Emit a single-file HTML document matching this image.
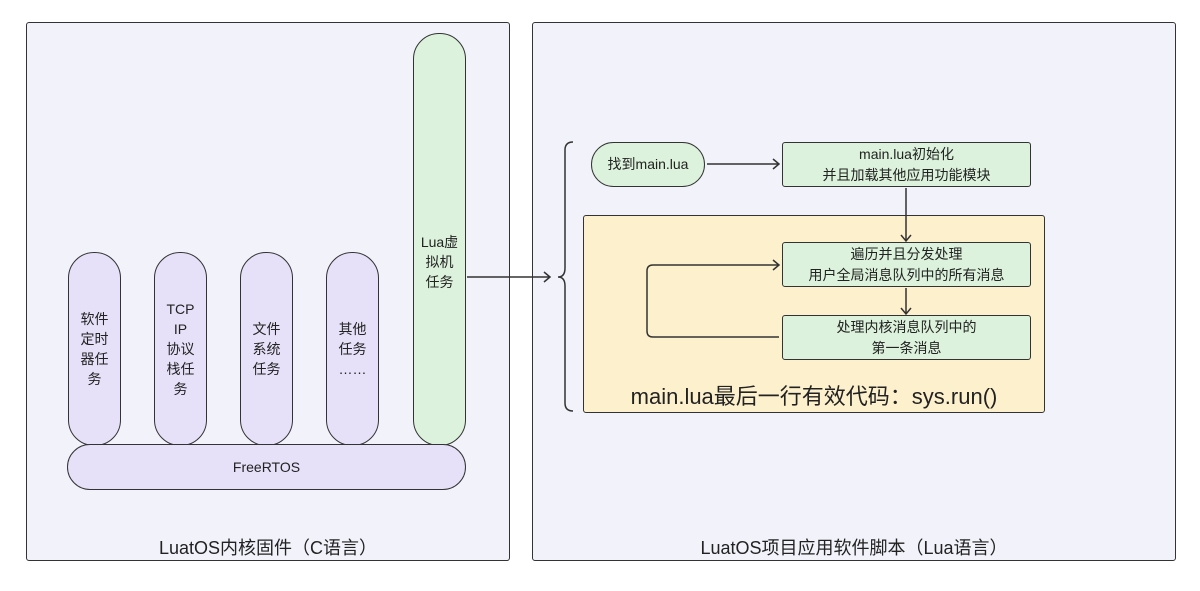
<!DOCTYPE html>
<html><head><meta charset="utf-8"><style>
body{margin:0;width:1200px;height:591px;background:#fff;overflow:hidden;position:relative;font-family:"Liberation Sans","Noto Sans CJK SC",sans-serif;color:#222}
.a{position:absolute;box-sizing:border-box;display:flex;align-items:center;justify-content:center;text-align:center}
.panel{border:1.5px solid #333;border-radius:3px;background:#f1f2fa}
.pill{border:1.5px solid #333;background:#e6e0f8;border-radius:26px;font-size:14px;line-height:20px}
.g{background:#dcf2dc;border:1.5px solid #333;font-size:14px;line-height:21px;border-radius:3px}
.lbl{font-size:18px}
</style></head><body>
<div class="a panel" style="left:26px;top:22px;width:484px;height:539px"></div>
<div class="a panel" style="left:532px;top:22px;width:644px;height:539px"></div>
<div class="a lbl" style="left:26px;top:532px;width:484px;height:30px">LuatOS内核固件（C语言）</div>
<div class="a lbl" style="left:532px;top:532px;width:644px;height:30px">LuatOS项目应用软件脚本（Lua语言）</div>

<div class="a pill" style="left:68px;top:252px;width:53px;height:194px">软件<br>定时<br>器任<br>务</div>
<div class="a pill" style="left:154px;top:252px;width:53px;height:194px">TCP<br>IP<br>协议<br>栈任<br>务</div>
<div class="a pill" style="left:240px;top:252px;width:53px;height:194px">文件<br>系统<br>任务</div>
<div class="a pill" style="left:326px;top:252px;width:53px;height:194px">其他<br>任务<br>……</div>
<div class="a pill" style="left:413px;top:33px;width:53px;height:413px;background:#dcf2dc;padding-top:44px">Lua虚<br>拟机<br>任务</div>
<div class="a pill" style="left:67px;top:444px;width:399px;height:46px;border-radius:23px">FreeRTOS</div>

<div class="a" style="left:583px;top:215px;width:462px;height:198px;background:#fdf0cc;border:1.5px solid #333;border-radius:3px"></div>
<div class="a" style="left:583px;top:380px;width:462px;height:30px;font-size:22px">main.lua最后一行有效代码：sys.run()</div>
<div class="a g" style="left:591px;top:142px;width:114px;height:45px;border-radius:23px;font-size:14px">找到main.lua</div>
<div class="a g" style="left:782px;top:142px;width:249px;height:45px">main.lua初始化<br>并且加载其他应用功能模块</div>
<div class="a g" style="left:782px;top:242px;width:249px;height:45px">遍历并且分发处理<br>用户全局消息队列中的所有消息</div>
<div class="a g" style="left:782px;top:315px;width:249px;height:45px">处理内核消息队列中的<br>第一条消息</div>

<svg width="1200" height="591" style="position:absolute;left:0;top:0" fill="none" stroke="#333" stroke-width="1.5">
<path d="M467 277H550M544 272l6 5-6 5"/>
<path d="M573 142q-8 0-8 8V268q0 9-7 9q7 0 7 9V403q0 8 8 8"/>
<path d="M707 164H779M773 159l6 5-6 5"/>
<path d="M906 188V241M901 235l5 6 5-6"/>
<path d="M906 288V314M901 308l5 6 5-6"/>
<path d="M779 337H653q-6 0-6-6V271q0-6 6-6H779M773 260l6 5-6 5"/>
</svg>
</body></html>
